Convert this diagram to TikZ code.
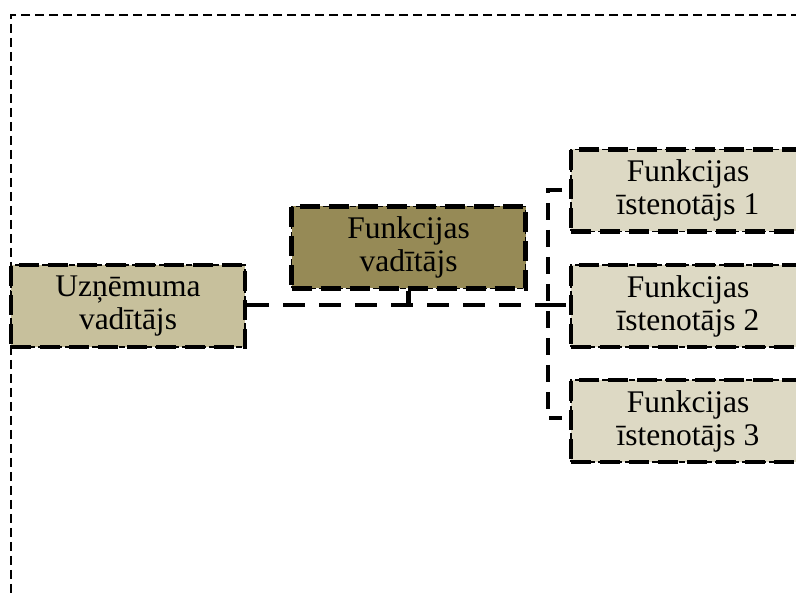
\documentclass[tikz,border=0pt]{standalone}
\usepackage{fontspec}
\setmainfont{Liberation Serif}
\definecolor{headfill}{HTML}{C7C09C}
\definecolor{midfill}{HTML}{968A56}
\definecolor{leaffill}{HTML}{DDD9C4}
\tikzset{
  orgbox/.style={rectangle, minimum width=234pt, minimum height=82pt, inner sep=0pt,
    align=center, font=\fontsize{31.5}{33}\selectfont,
    draw=black, line width=4.2pt, dash pattern=on 20pt off 9pt,
    postaction={draw=black, line width=1.3pt, dash pattern=on 6pt off 3pt}},
  link/.style={draw=black, line width=4.2pt, dash pattern=on 22pt off 14pt},
  stub/.style={draw=black, line width=4.2pt, dash pattern=on 17pt off 10pt},
  frame/.style={draw=black, line width=1.8pt, dash pattern=on 9pt off 5pt}
}
\begin{document}
\begin{tikzpicture}[x=1pt,y=-1pt]
\useasboundingbox (0,0) rectangle (796,593);
% outer dashed frame (top and left edges)
\coordinate (fr0) at (11,15);
\coordinate (fr1) at (800,15);
\coordinate (fr2) at (11,597);
\draw[frame] (fr1) -- (fr0) -- (fr2);

% boxes
\node[orgbox, fill=headfill] (uz) at (128,306) {Uzņēmuma\\vadītājs};
\node[orgbox, fill=midfill] (fv) at (408.5,247.5) {Funkcijas\\vadītājs};
\node[orgbox, fill=leaffill] (fi1) at (688,190.5) {Funkcijas\\īstenotājs 1};
\node[orgbox, fill=leaffill] (fi2) at (688,306) {Funkcijas\\īstenotājs 2};
\node[orgbox, fill=leaffill] (fi3) at (688,421) {Funkcijas\\īstenotājs 3};

% bracket points
\coordinate (bm) at (548,305);
\coordinate (bt) at (548,190);
\coordinate (bb) at (548,418);
\coordinate (btr) at (562,190);
\coordinate (bbr) at (562,418);
\coordinate (bmr) at (566,305);

% connectors
\draw[link] (uz.east |- bm) -- (bm);
\draw[line width=4.2pt] (fv.south) -- (fv.south |- bm);
\draw[stub] (btr) -- (bt) -- (bb) -- (bbr);
\draw[line width=4.2pt] (bm) -- (bmr);
\end{tikzpicture}
\end{document}
